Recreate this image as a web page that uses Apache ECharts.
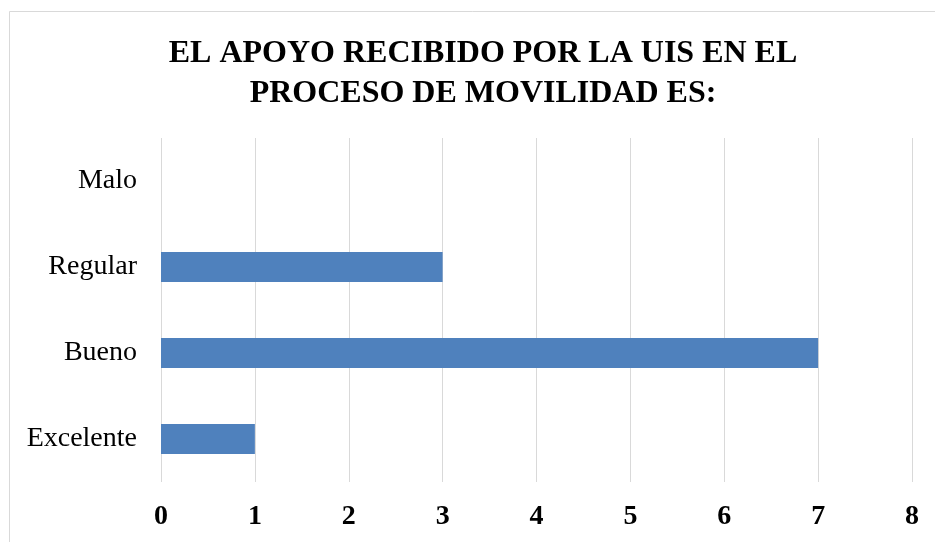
<!DOCTYPE html>
<html>
<head>
<meta charset="utf-8">
<script src="https://cdn.jsdelivr.net/npm/echarts@6/dist/echarts.min.js"></script>
<style>html,body{margin:0;padding:0;background:#fff;}#c{width:935px;height:542px;}</style>
</head>
<body>
<div id="c"></div>
<script>
const titleText = 'EL APOYO RECIBIDO POR LA UIS EN EL\nPROCESO DE MOVILIDAD ES:';
const categories = ['Excelente', 'Bueno', 'Regular', 'Malo'];
const values = [1, 7, 3, 0];
const xMin = 0, xMax = 8, xStep = 1;

const chart = echarts.init(document.getElementById('c'), null, {renderer: 'canvas'});
chart.setOption({
  animation: false,
  backgroundColor: '#ffffff',
  title: {
    text: titleText,
    left: 478,
    top: 29,
    textAlign: 'center',
    textStyle: {
      fontFamily: 'Liberation Serif',
      fontWeight: 'bold',
      fontSize: 32,
      lineHeight: 40,
      color: '#000'
    }
  },
  graphic: [{
    type: 'rect',
    shape: {x: 9.5, y: 11.5, width: 1000, height: 1000},
    style: {fill: 'none', stroke: '#d9d9d9', lineWidth: 1},
    silent: true
  }],
  grid: {left: 161, right: 23, top: 138, bottom: 60, containLabel: false},
  xAxis: {
    type: 'value',
    min: xMin, max: xMax, interval: xStep,
    axisLine: {show: false},
    axisTick: {show: false},
    splitLine: {show: true, lineStyle: {color: '#d9d9d9', width: 1}},
    axisLabel: {
      margin: 21,
      fontFamily: 'Liberation Serif',
      fontWeight: 'bold',
      fontSize: 28,
      color: '#000'
    }
  },
  yAxis: {
    type: 'category',
    data: categories,
    axisLine: {show: false},
    axisTick: {show: false},
    splitLine: {show: false},
    axisLabel: {
      margin: 24,
      fontFamily: 'Liberation Serif',
      fontSize: 28,
      color: '#000'
    }
  },
  series: [{
    type: 'bar',
    data: values,
    barWidth: 30,
    itemStyle: {color: '#4F81BD'}
  }]
});
</script>
</body>
</html>
